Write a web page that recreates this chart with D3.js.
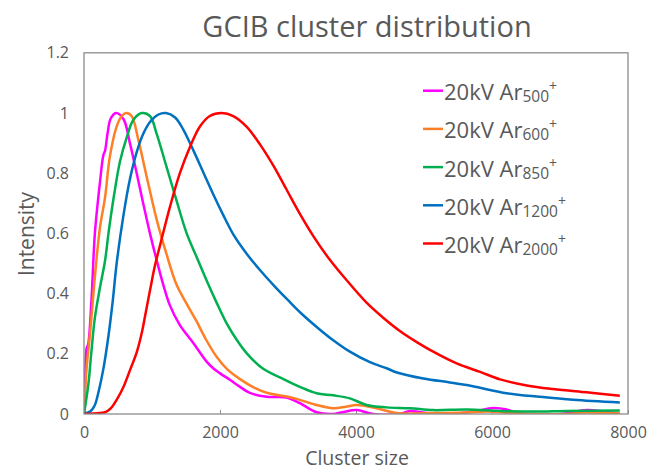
<!DOCTYPE html>
<html>
<head>
<meta charset="utf-8">
<script src="https://cdn.jsdelivr.net/npm/d3@7"></script>
<style>
  body { margin: 0; background: #fff; }
  text { font-family: "Open Sans", "Liberation Sans", sans-serif; fill: #595959; }
</style>
</head>
<body>
<svg id="chart" width="648" height="471"></svg>
<script>
// series: [cluster size, intensity]
const ar500 = [[0,0],[15,0.10],[40,0.22],[60,0.23],[110,0.38],[160,0.60],[235,0.77],[285,0.86],[310,0.875],[345,0.93],[390,0.98],[470,1.0],[580,0.98],[675,0.90],[775,0.80],[870,0.70],[970,0.60],[1070,0.51],[1165,0.43],[1265,0.36],[1410,0.295],[1610,0.235],[1800,0.175],[1900,0.152],[2000,0.135],[2150,0.113],[2295,0.09],[2440,0.07],[2690,0.057],[2980,0.055],[3175,0.036],[3420,0.006],[3660,0],[3800,0.006],[4010,0.013],[4250,0],[4640,0],[4795,0.01],[5000,0.004],[5380,0],[5720,0.008],[6020,0.02],[6215,0.015],[6410,0],[7000,0],[7390,0.013],[7590,0.01],[7880,0]];
const ar600 = [[0,0],[40,0.157],[90,0.27],[160,0.456],[235,0.62],[310,0.72],[380,0.855],[480,0.955],[555,0.99],[618,1.0],[700,0.99],[800,0.91],[920,0.79],[1070,0.645],[1215,0.53],[1360,0.43],[1500,0.37],[1650,0.31],[1800,0.245],[1950,0.19],[2100,0.15],[2300,0.115],[2500,0.088],[2700,0.07],[2980,0.058],[3175,0.047],[3420,0.03],[3665,0.019],[3850,0.024],[4010,0.03],[4300,0.019],[4600,0.003],[5140,0.003],[5630,0.005],[5920,0.008],[6320,0.003],[6620,0],[7100,0],[7350,0.005],[7880,0.003]];
const ar850 = [[0,0],[65,0.10],[110,0.21],[160,0.32],[235,0.42],[310,0.51],[360,0.60],[430,0.71],[530,0.84],[630,0.92],[725,0.977],[850,1.0],[970,0.99],[1070,0.93],[1215,0.82],[1360,0.71],[1510,0.60],[1650,0.525],[1800,0.445],[1950,0.37],[2100,0.30],[2250,0.245],[2400,0.20],[2635,0.15],[2880,0.122],[3175,0.09],[3420,0.069],[3665,0.062],[3910,0.052],[4155,0.03],[4450,0.022],[4795,0.019],[5135,0.013],[5630,0.015],[6120,0.01],[6620,0.008],[7100,0.01],[7880,0.012]];
const ar1200 = [[0,0],[60,0.005],[100,0.01],[160,0.03],[210,0.07],[285,0.15],[360,0.26],[420,0.37],[480,0.50],[580,0.66],[675,0.78],[775,0.87],[870,0.93],[970,0.97],[1095,0.995],[1205,1.0],[1340,0.985],[1460,0.945],[1610,0.875],[1760,0.80],[1900,0.73],[2050,0.66],[2200,0.595],[2400,0.53],[2600,0.475],[2800,0.425],[3000,0.378],[3200,0.333],[3470,0.28],[3665,0.245],[3910,0.207],[4205,0.172],[4450,0.152],[4600,0.138],[4990,0.118],[5380,0.105],[5630,0.096],[5825,0.087],[6215,0.069],[6705,0.057],[7195,0.047],[7880,0.038]];
const ar2000 = [[0,0],[235,0.003],[330,0.008],[400,0.02],[480,0.047],[580,0.09],[675,0.145],[775,0.205],[850,0.27],[910,0.34],[970,0.41],[1040,0.49],[1120,0.562],[1265,0.689],[1410,0.80],[1560,0.888],[1705,0.955],[1850,0.99],[2025,1.0],[2195,0.99],[2390,0.955],[2590,0.895],[2785,0.825],[2980,0.745],[3175,0.665],[3370,0.592],[3590,0.52],[3860,0.445],[4155,0.37],[4400,0.32],[4650,0.275],[4900,0.238],[5135,0.207],[5480,0.168],[5825,0.14],[6120,0.115],[6510,0.095],[6900,0.083],[7390,0.072],[7880,0.061]];

const seriesData = [ar500, ar600, ar850, ar1200, ar2000];
const seriesSub = ['500', '600', '850', '1200', '2000'];
const seriesColors = ['#ff00ff', '#ff7f27', '#00b050', '#0070c0', '#ff0000'];
const xTicks = [0, 2000, 4000, 6000, 8000];
const yTicks = [0, 0.2, 0.4, 0.6, 0.8, 1, 1.2];

const svg = d3.select('#chart');
const plot = { left: 84, right: 628, top: 52.8, bottom: 414 };

const x = d3.scaleLinear().domain([0, 8000]).range([plot.left, plot.right]);
const y = d3.scaleLinear().domain([0, 1.2]).range([plot.bottom, plot.top]);

// title
svg.append('text')
  .attr('x', 367).attr('y', 37)
  .attr('text-anchor', 'middle')
  .style('font-size', '29px')
  .text('GCIB cluster distribution');

// x axis
const gx = svg.append('g')
  .attr('transform', 'translate(0,' + plot.bottom + ')')
  .call(d3.axisBottom(x).tickValues(xTicks).tickFormat(d3.format('d'))
    .tickSizeInner(-4).tickSizeOuter(0).tickPadding(13));
gx.select('.domain').remove();
gx.selectAll('line').attr('stroke', '#8c8c8c');
gx.selectAll('text').style('font-size', '16px').attr('fill', '#595959');

// y axis
const gy = svg.append('g')
  .attr('transform', 'translate(' + plot.left + ',0)')
  .call(d3.axisLeft(y).tickValues(yTicks).tickFormat(d => String(+d.toFixed(1)))
    .tickSize(0).tickPadding(15));
gy.select('.domain').remove();
gy.selectAll('text').style('font-size', '16px').attr('fill', '#595959');

// clip
svg.append('clipPath').attr('id', 'clip')
  .append('rect')
  .attr('x', plot.left).attr('y', plot.top)
  .attr('width', plot.right - plot.left).attr('height', plot.bottom - plot.top);

const line = d3.line()
  .x(d => x(d[0]))
  .y(d => y(d[1]))
  .curve(d3.curveCatmullRom.alpha(0.5));

svg.append('g').attr('clip-path', 'url(#clip)')
  .selectAll('path')
  .data(seriesData)
  .join('path')
  .attr('fill', 'none')
  .attr('stroke', (d, i) => seriesColors[i])
  .attr('stroke-width', 2.5)
  .attr('stroke-linejoin', 'round')
  .attr('d', line);

// frame
svg.append('rect')
  .attr('x', plot.left).attr('y', plot.top)
  .attr('width', plot.right - plot.left).attr('height', plot.bottom - plot.top)
  .attr('fill', 'none')
  .attr('stroke', '#8c8c8c')
  .attr('stroke-width', 1.3);

// axis titles
svg.append('text')
  .attr('x', 357).attr('y', 465)
  .attr('text-anchor', 'middle')
  .style('font-size', '19.5px')
  .text('Cluster size');

svg.append('text')
  .attr('transform', 'translate(34,234) rotate(-90)')
  .attr('text-anchor', 'middle')
  .style('font-size', '21px')
  .text('Intensity');

// legend
const legend = svg.append('g');
seriesSub.forEach((s, i) => {
  const ly = 90.7 + i * 38.2;
  legend.append('line')
    .attr('x1', 423).attr('x2', 443)
    .attr('y1', ly).attr('y2', ly)
    .attr('stroke', seriesColors[i])
    .attr('stroke-width', 2.5);
  const t = legend.append('text')
    .attr('x', 444).attr('y', ly + 9.5)
    .style('font-size', '22px');
  t.append('tspan').text('20kV Ar');
  t.append('tspan').attr('dy', 2).style('font-size', '15.5px').text(s);
  t.append('tspan').attr('dy', -11).style('font-size', '14px').text('+');
});
</script>
</body>
</html>
